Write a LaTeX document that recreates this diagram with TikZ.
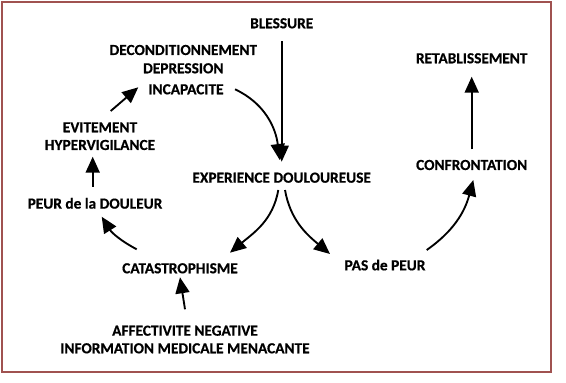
\documentclass[tikz,border=0pt]{standalone}
\usepackage{fontspec}
\setmainfont[BoldFeatures={FakeBold=0.6}]{Carlito}
\usetikzlibrary{arrows.meta}
\definecolor{cadre}{RGB}{160,82,80}
\tikzset{
  lab/.style={font=\bfseries\fontsize{11.5}{13}\selectfont, inner sep=0pt},
  fl/.style={line width=1.4pt, -{Triangle[length=12pt,width=10.5pt]}}
}
\begin{document}
\begin{tikzpicture}[x=0.75pt,y=0.75pt]

\useasboundingbox (0,0) rectangle (566,-382);
\draw[cadre, line width=1.1pt] (2,-2) rectangle (551,-372);

\node[lab] (bles) at (281.7,-23.3) {BLESSURE};
\node[lab] (decond) at (183.3,-50) {DECONDITIONNEMENT};
\node[lab] (depr) at (183.3,-68.3) {DEPRESSION};
\node[lab] (incap) at (186,-89.3) {INCAPACITE};
\node[lab] (retab) at (471.7,-58.3) {RETABLISSEMENT};
\node[lab] (evit) at (100,-127.3) {EVITEMENT};
\node[lab] (hyper) at (100,-145) {HYPERVIGILANCE};
\node[lab] (confr) at (471.7,-165) {CONFRONTATION};
\node[lab] (exp) at (281.7,-177.7) {EXPERIENCE DOULOUREUSE};
\node[lab] (peur) at (95,-203.3) {PEUR de la DOULEUR};
\node[lab] (cata) at (180,-268.3) {CATASTROPHISME};
\node[lab] (pas) at (385,-265) {PAS de PEUR};
\node[lab] (affect) at (185,-330.7) {AFFECTIVITE NEGATIVE};
\node[lab] (info) at (185,-348.3) {INFORMATION MEDICALE MENACANTE};

\draw[fl] ([shift={(0,-17.7)}]bles.center) -- ([shift={(0,16)}]exp.center);
\draw[fl] ([shift={(49,0)}]incap.center) to[out=-25,in=97] ([shift={(-2,17.7)}]exp.center);
\draw[fl] ([shift={(10.7,16.3)}]evit.center) -- ([shift={(-47.7,2)}]incap.center);
\draw[fl] ([shift={(-2.3,16.6)}]peur.center) -- ([shift={(-7.3,-11.7)}]hyper.center);
\draw[fl] ([shift={(-43.3,19)}]cata.center) to[bend left=15] ([shift={(6.7,-13.4)}]peur.center);
\draw[fl] ([shift={(-3.4,-12.3)}]exp.center) to[out=-100,in=40] ([shift={(50,15.6)}]cata.center);
\draw[fl] ([shift={(3.3,-12.3)}]exp.center) to[out=-80,in=140] ([shift={(-55,11)}]pas.center);
\draw[fl] ([shift={(41.7,15)}]pas.center) to[out=35,in=-105] ([shift={(1.6,-15)}]confr.center);
\draw[fl] ([shift={(0,15.7)}]confr.center) -- ([shift={(0,-18.4)}]retab.center);
\draw[fl] ([shift={(0,21.4)}]affect.center) -- ([shift={(0,-9)}]cata.center);

\end{tikzpicture}
\end{document}
